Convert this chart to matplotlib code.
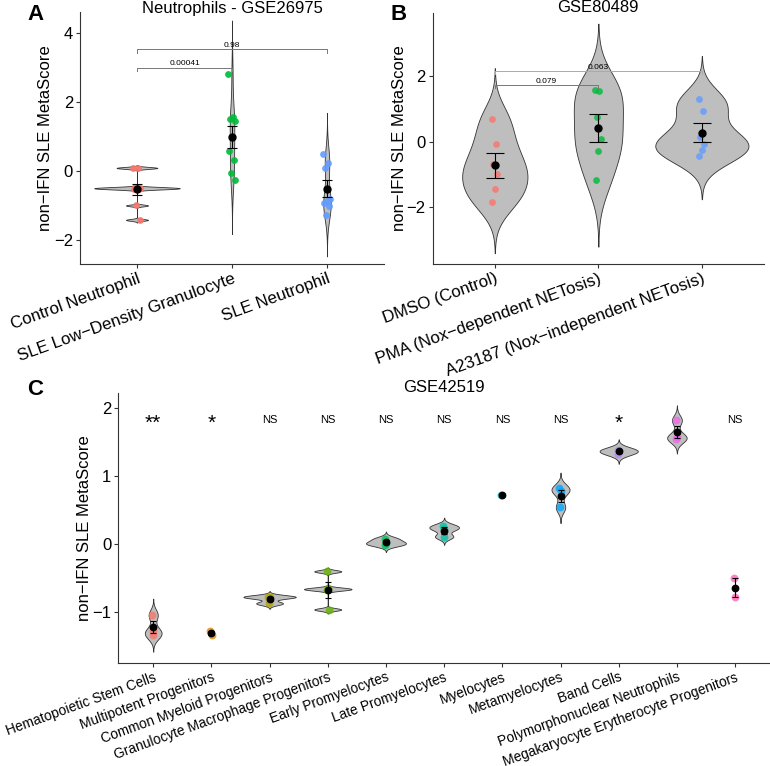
import numpy as np
import matplotlib
matplotlib.use('Agg')
import matplotlib.pyplot as plt

plt.rcParams['font.family'] = ['Liberation Sans', 'DejaVu Sans']
plt.rcParams['axes.unicode_minus'] = True

# ---------------- data ----------------
# Panel A
a_title = "Neutrophils - GSE26975"
a_categories = ["Control Neutrophil", "SLE Low\u2212Density Granulocyte", "SLE Neutrophil"]
a_control = [0.10, 0.08, -0.47, -0.49, -0.50, -0.51, -0.53, -1.00, -1.42]
a_ldg = [2.81, 1.58, 1.52, 1.46, 1.00, 0.57, 0.31, -0.06, -0.27]
a_sle = [0.49, 0.22, 0.10, -0.80, -0.86, -0.92, -1.03, -1.28]
a_colors = ["#F8766D", "#00BA38", "#619CFF"]
a_pvalues = ["0.00041", "0.98"]
a_pairs = [(0, 1), (0, 2)]

# Panel B
b_title = "GSE80489"
b_categories = ["DMSO (Control)", "PMA (Nox\u2212dependent NETosis)", "A23187 (Nox\u2212independent NETosis)"]
b_dmso = [0.69, -0.06, -0.69, -0.98, -1.45, -1.85]
b_pma = [1.57, 1.55, 0.76, 0.08, -0.27, -1.17]
b_a23187 = [1.30, 0.95, 0.14, -0.06, -0.24, -0.44]
b_colors = ["#F8766D", "#00BA38", "#619CFF"]
b_pvalues = ["0.079", "0.063"]
b_pairs = [(0, 1), (0, 2)]

# Panel C
c_title = "GSE42519"
c_categories = ["Hematopoietic Stem Cells", "Multipotent Progenitors", "Common Myeloid Progenitors",
                "Granulocyte Macrophage Progenitors", "Early Promyelocytes", "Late Promyelocytes",
                "Myelocytes", "Metamyelocytes", "Band Cells", "Polymorphonuclear Neutrophils",
                "Megakaryocyte Erytherocyte Progenitors"]
c_hsc = [-1.04, -1.28, -1.34]
c_mpp = [-1.28, -1.33]
c_cmp = [-0.77, -0.78, -0.87]
c_gmp = [-0.40, -0.65, -0.67, -0.96]
c_early_pro = [0.08, 0.02, -0.01]
c_late_pro = [0.27, 0.22, 0.11]
c_myelo = [0.72]
c_metamyelo = [0.82, 0.78, 0.54]
c_band = [1.39, 1.37, 1.33]
c_pmn = [1.82, 1.57, 1.55]
c_mep = [-0.50, -0.78]
c_colors = ["#F8766D", "#DB8E00", "#AEA200", "#64B200", "#00BD5C", "#00C1A7",
            "#00BADE", "#00A6FF", "#B385FF", "#EF67EB", "#FF63B6"]
c_signif = ["**", "*", "NS", "NS", "NS", "NS", "NS", "NS", "*", "", "NS"]

# ---------------- style / layout ----------------
a_bw = [0.026, 0.52, 0.40]
b_bw = [0.52, 0.68, 0.44]
c_bw = [0.08, None, 0.027, 0.02, 0.035, 0.04, None, 0.077, 0.05, 0.073, None]
VIOLIN_FILL = "#BEBEBE"
VIOLIN_EDGE = "#333333"
AXCOL = "#333333"

W, H = 770, 766
fig = plt.figure(figsize=(W / 100, H / 100), dpi=100)


def px_axes(l, r, t, b):
    return fig.add_axes([l / W, 1 - b / H, (r - l) / W, (b - t) / H])


def kde(vals, bw, n=800):
    v = np.asarray(vals, float)
    y = np.linspace(v.min() - 3 * bw, v.max() + 3 * bw, n)
    d = np.exp(-0.5 * ((y[:, None] - v[None, :]) / bw) ** 2).sum(1) / (len(v) * bw * np.sqrt(2 * np.pi))
    return y, d


def style_axes(ax, yticks, xlabels, xfs, yfs):
    for s in ("top", "right"):
        ax.spines[s].set_visible(False)
    for s in ("left", "bottom"):
        ax.spines[s].set_color(AXCOL)
        ax.spines[s].set_linewidth(0.8)
    ax.set_yticks(yticks)
    ax.set_yticklabels([("\u2212%d" % -t) if t < 0 else "%d" % t for t in yticks], fontsize=yfs)
    ax.set_xticks(np.arange(1, len(xlabels) + 1))
    ax.set_xticklabels(xlabels, rotation=20, ha="right", va="top",
                       rotation_mode="anchor", fontsize=xfs)
    ax.tick_params(axis="both", colors=AXCOL, length=3, width=0.8, labelcolor="black", pad=2)


def draw_panel(ax, groups, colors, bws, jit, capsize, alpha, psize, msize):
    dens = []
    for g, bw in zip(groups, bws):
        if bw is not None and len(g) >= 3:
            dens.append(kde(g, bw))
        else:
            dens.append(None)
    dmax = max(d[1].max() for d in dens if d is not None)
    for i, (g, col, dd) in enumerate(zip(groups, colors, dens)):
        x = i + 1
        if dd is not None:
            y, d = dd
            half = 0.45 * d / dmax
            ax.fill_betweenx(y, x - half, x + half, facecolor=VIOLIN_FILL,
                             edgecolor=VIOLIN_EDGE, linewidth=0.6, zorder=1)
        n = len(g)
        offs = (((np.arange(n) * 0.618) % 1.0) - 0.5) * 2 * jit
        ax.scatter(x + offs, g, s=psize, color=col, alpha=alpha, linewidths=0, zorder=2)
        arr = np.asarray(g, float)
        m = arr.mean()
        if n > 1:
            se = arr.std(ddof=1) / np.sqrt(n)
            ax.errorbar([x], [m], yerr=[se], fmt="none", ecolor="black", elinewidth=0.8,
                        capsize=capsize, capthick=0.8, zorder=3)
        ax.plot([x], [m], "o", color="black", ms=msize, zorder=4)


def bracket(ax, i, j, y, label, tip, color, fs):
    ax.plot([i, i, j, j], [y - tip, y, y, y - tip], color=color, lw=0.7, zorder=5)
    ax.text((i + j) / 2, y + 0.02, label, ha="center", va="bottom", fontsize=fs, zorder=6)


# Panel A
axA = px_axes(80, 384, 11.6, 264)
draw_panel(axA, [a_control, a_ldg, a_sle], a_colors, a_bw, 0.04, 3.5, 0.9, 24, 5)
axA.set_xlim(0.4, 3.6)
axA.set_ylim(-2.70, 4.63)
style_axes(axA, [-2, 0, 2, 4], a_categories, 12.2, 12)
for (i, j), lab, yb in zip(a_pairs, a_pvalues, [3.0, 3.53]):
    bracket(axA, i + 1, j + 1, yb, lab, 0.1, "#777777", 6)
axA.set_ylabel("non\u2212IFN SLE MetaScore", fontsize=12)
axA.yaxis.set_label_coords(-0.089, 0.5)

# Panel B
axB = px_axes(432.7, 764, 12.9, 264)
draw_panel(axB, [b_dmso, b_pma, b_a23187], b_colors, b_bw, 0.03, 6.5, 0.8, 24, 5)
axB.set_xlim(0.4, 3.6)
axB.set_ylim(-3.74, 3.94)
style_axes(axB, [-2, 0, 2], b_categories, 12.2, 12)
for (i, j), lab, yb, col in zip(b_pairs, b_pvalues, [1.72, 2.15], ["#777777", "#AAAAAA"]):
    bracket(axB, i + 1, j + 1, yb, lab, 0.08, col, 6)
axB.set_ylabel("non\u2212IFN SLE MetaScore", fontsize=12)
axB.yaxis.set_label_coords(-0.078, 0.5)

# Panel C
c_groups = [c_hsc, c_mpp, c_cmp, c_gmp, c_early_pro, c_late_pro, c_myelo,
            c_metamyelo, c_band, c_pmn, c_mep]
axC = px_axes(118.3, 770, 393, 663.3)
draw_panel(axC, c_groups, c_colors, c_bw, 0.02, 2.5, 0.8, 32, 4.6)
axC.set_xlim(0.4, 11.6)
axC.set_ylim(-1.75, 2.22)
style_axes(axC, [-1, 0, 1, 2], c_categories, 9.9, 12)
for i, s in enumerate(c_signif):
    if s == "NS":
        axC.text(i + 1, 1.82, s, ha="center", va="center", fontsize=8)
    elif s:
        axC.text(i + 1, 1.78, s, ha="center", va="center", fontsize=15)
axC.set_ylabel("non\u2212IFN SLE MetaScore", fontsize=12)
axC.yaxis.set_label_coords(-0.040, 0.5)

# titles and panel letters
fig.text(232 / W, 1 - 8 / H, a_title, ha="center", va="center", fontsize=12)
fig.text(598 / W, 1 - 8 / H, b_title, ha="center", va="center", fontsize=12)
fig.text(444 / W, 1 - 387 / H, c_title, ha="center", va="center", fontsize=12)
for lab, x, y in [("A", 35, 15), ("B", 399, 15), ("C", 35, 389)]:
    fig.text(x / W, 1 - y / H, lab, ha="center", va="center", fontsize=16, fontweight="bold")

fig.savefig("out.png", dpi=100)
